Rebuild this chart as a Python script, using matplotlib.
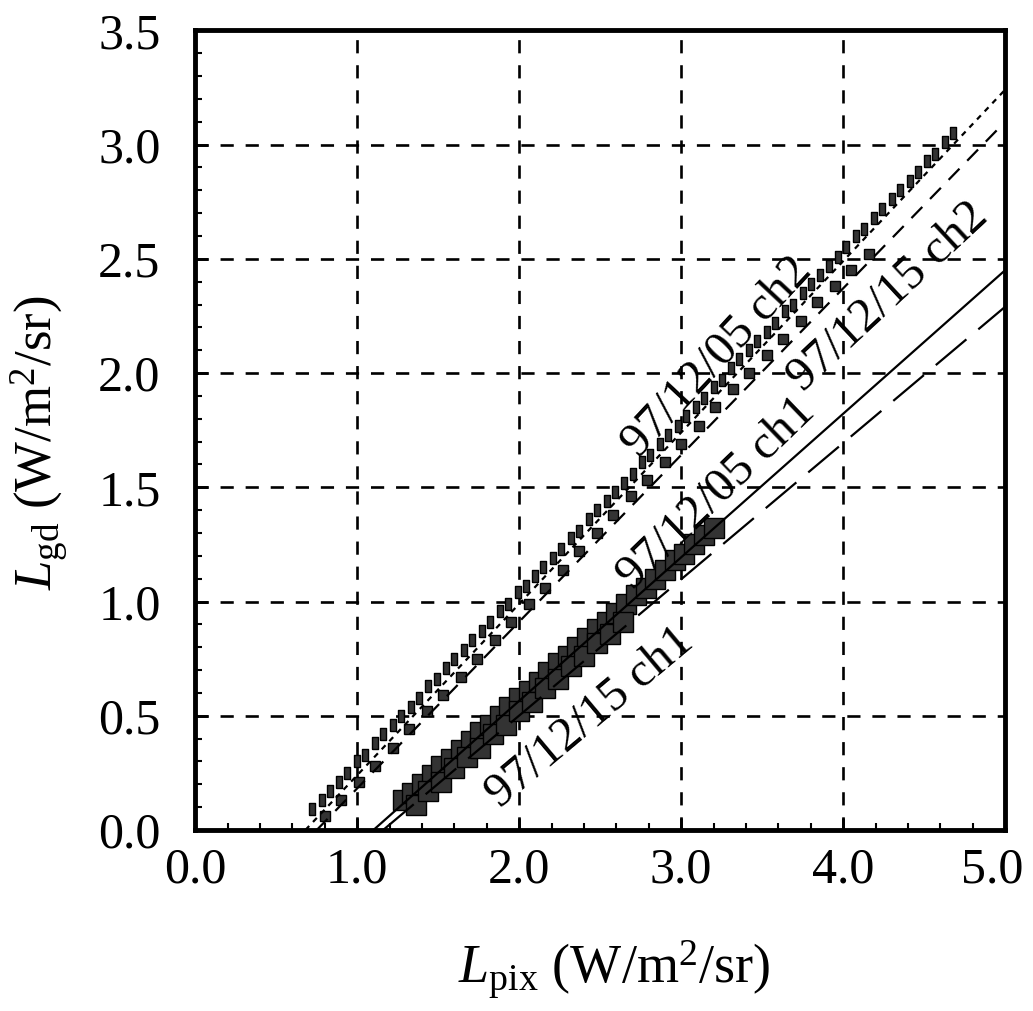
import numpy as np
import matplotlib
matplotlib.use('Agg')
import matplotlib.pyplot as plt
import matplotlib.transforms as mtransforms
from matplotlib.ticker import MultipleLocator

plt.rcParams['font.family'] = ['Liberation Serif', 'DejaVu Serif']
plt.rcParams['mathtext.fontset'] = 'custom'
plt.rcParams['mathtext.rm'] = 'Liberation Serif'
plt.rcParams['mathtext.it'] = 'Liberation Serif:italic'

# 97/12/05 ch2 points (small markers)
x_05_ch2 = [0.72, 0.78, 0.83, 0.89, 0.94, 1.00, 1.05, 1.11, 1.16, 1.22, 1.27, 1.33,
            1.38, 1.44, 1.49, 1.55, 1.60, 1.66, 1.71, 1.77, 1.82, 1.88, 1.93, 1.99,
            2.04, 2.10, 2.15, 2.21, 2.26, 2.32, 2.37, 2.43, 2.48, 2.54, 2.59, 2.65,
            2.70, 2.76, 2.81, 2.87, 2.92, 2.98, 3.03, 3.09, 3.14, 3.20, 3.25, 3.31,
            3.36, 3.42, 3.47, 3.53, 3.58, 3.64, 3.69, 3.75, 3.80, 3.86, 3.91, 3.97,
            4.02, 4.08, 4.13, 4.19, 4.24, 4.30, 4.35, 4.41, 4.46, 4.52, 4.57, 4.63, 4.68]
y_05_ch2 = [0.09, 0.13, 0.17, 0.21, 0.25, 0.30, 0.33, 0.38, 0.42, 0.46, 0.50, 0.54,
            0.58, 0.63, 0.66, 0.71, 0.75, 0.79, 0.83, 0.87, 0.91, 0.96, 0.99, 1.04,
            1.07, 1.11, 1.15, 1.19, 1.23, 1.28, 1.31, 1.36, 1.40, 1.44, 1.48, 1.52,
            1.56, 1.61, 1.64, 1.69, 1.73, 1.77, 1.81, 1.85, 1.89, 1.94, 1.97, 2.02,
            2.06, 2.10, 2.14, 2.18, 2.22, 2.27, 2.30, 2.35, 2.39, 2.43, 2.47, 2.51,
            2.55, 2.60, 2.63, 2.68, 2.72, 2.76, 2.80, 2.84, 2.88, 2.93, 2.96, 3.01, 3.05]

# 97/12/15 ch2 points (squares on line)
x_15_ch2 = [0.80, 0.90, 1.01, 1.11, 1.22, 1.32, 1.43, 1.53, 1.64, 1.74, 1.85, 1.95,
            2.06, 2.16, 2.27, 2.37, 2.48, 2.58, 2.69, 2.79, 2.90, 3.00, 3.11, 3.21,
            3.32, 3.42, 3.53, 3.63, 3.74, 3.84, 3.95, 4.05, 4.16]
y_15_ch2 = [0.06, 0.13, 0.21, 0.28, 0.36, 0.44, 0.52, 0.59, 0.67, 0.75, 0.83, 0.91,
            0.99, 1.06, 1.14, 1.22, 1.30, 1.38, 1.46, 1.53, 1.61, 1.69, 1.77, 1.85,
            1.93, 2.00, 2.08, 2.15, 2.23, 2.31, 2.38, 2.45, 2.52]

# 97/12/05 ch1 points (dense band)
x_05_ch1 = [1.28, 1.34, 1.40, 1.46, 1.52, 1.58, 1.64, 1.70, 1.76, 1.82, 1.88, 1.94,
            2.00, 2.06, 2.12, 2.18, 2.24, 2.30, 2.36, 2.42, 2.48, 2.54, 2.60, 2.66,
            2.72, 2.78, 2.84, 2.90, 2.96, 3.02, 3.08, 3.14, 3.20]
y_05_ch1 = [0.13, 0.16, 0.20, 0.24, 0.28, 0.31, 0.35, 0.39, 0.43, 0.46, 0.50, 0.54,
            0.58, 0.61, 0.65, 0.69, 0.73, 0.76, 0.80, 0.84, 0.88, 0.91, 0.95, 0.99,
            1.03, 1.06, 1.10, 1.14, 1.18, 1.21, 1.25, 1.29, 1.32]

# 97/12/15 ch1 points (blocks)
x_15_ch1 = [1.36, 1.44, 1.52, 1.60, 1.68, 1.76, 1.84, 1.92, 2.00, 2.08, 2.16, 2.24,
            2.32, 2.40, 2.48, 2.56, 2.64]
y_15_ch1 = [0.11, 0.17, 0.21, 0.27, 0.32, 0.36, 0.42, 0.46, 0.52, 0.56, 0.62, 0.66,
            0.72, 0.76, 0.82, 0.86, 0.91]

# fitted lines (start at y=0, end at right edge)
fit_05_ch2 = ([0.68, 5.0], [0.0, 3.24])
fit_15_ch2 = ([0.75, 5.0], [0.0, 3.10])
fit_05_ch1 = ([1.10, 5.0], [0.0, 2.45])
fit_15_ch1 = ([1.16, 5.0], [0.0, 2.29])

labels = ['97/12/05 ch2', '97/12/15 ch2', '97/12/05 ch1', '97/12/15 ch1']
label_pos = [(3.22, 2.07), (4.28, 2.33), (3.22, 1.47), (2.44, 0.49)]
label_rot = [47, 43, 44, 40]

fig = plt.figure(figsize=(10.33, 10.11), dpi=100)
ax = fig.add_axes([0.189, 0.179, 0.784, 0.791])

ax.set_xlim(0, 5)
ax.set_ylim(0, 3.5)

ax.grid(True, which='major', color='black', linestyle=(0, (5, 4.5)), linewidth=1.9)

gray = '#333333'
rect = [(-0.6, -1), (0.6, -1), (0.6, 1), (-0.6, 1), (-0.6, -1)]
ax.plot(x_05_ch1, y_05_ch1, 's', color=gray, markeredgecolor='black', markersize=14, zorder=3)
ax.plot(x_15_ch1, y_15_ch1, 's', color=gray, markeredgecolor='black', markersize=14, zorder=3)
ax.plot(x_05_ch2, y_05_ch2, marker=rect, linestyle='none', color=gray,
        markeredgecolor='black', markersize=8, zorder=3)
ax.plot(x_15_ch2, y_15_ch2, 's', color=gray, markeredgecolor='black', markersize=7.5, zorder=3)

ax.plot(*fit_05_ch2, color='black', linewidth=1.6, linestyle=(0, (2.5, 2.5)), zorder=4)
ax.plot(*fit_15_ch2, color='black', linewidth=1.6, linestyle=(0, (7, 5)), zorder=4)
ax.plot(*fit_05_ch1, color='black', linewidth=1.6, zorder=4)
ax.plot(*fit_15_ch1, color='black', linewidth=1.6, linestyle=(0, (18, 7)), zorder=4)

for txt, (tx, ty), rot in zip(labels, label_pos, label_rot):
    ax.text(tx, ty, txt, fontsize=35, rotation=rot, rotation_mode='anchor',
            ha='center', va='center', zorder=5)

ax.xaxis.set_minor_locator(MultipleLocator(0.2))
ax.yaxis.set_minor_locator(MultipleLocator(0.1))
ax.set_xticks(np.arange(0, 5.01, 1.0))
ax.set_xticklabels(['%.1f' % v for v in np.arange(0, 5.01, 1.0)])
ax.set_yticks(np.arange(0, 3.51, 0.5))
ax.set_yticklabels(['%.1f' % v for v in np.arange(0, 3.51, 0.5)])
ax.tick_params(which='major', direction='in', length=9, width=2, labelsize=36)
ax.tick_params(which='minor', direction='in', length=5, width=1.5)
ax.tick_params(axis='x', pad=12)
ax.tick_params(axis='y', pad=25)

for s in ax.spines.values():
    s.set_linewidth(3.5)

ax.set_xlabel(r'$L_{\mathrm{pix}}$ (W/m$^2$/sr)', fontsize=39)
ax.set_ylabel(r'$L_{\mathrm{gd}}$ (W/m$^2$/sr)', fontsize=38)
ax.xaxis.set_label_coords(0.517, -0.135)
ax.yaxis.set_label_coords(-0.155, 0.484)

last = ax.get_xticklabels()[-1]
last.set_transform(last.get_transform() +
                   mtransforms.ScaledTranslation(-9 / 72, 0, fig.dpi_scale_trans))

fig.savefig('out.png', dpi=100)
